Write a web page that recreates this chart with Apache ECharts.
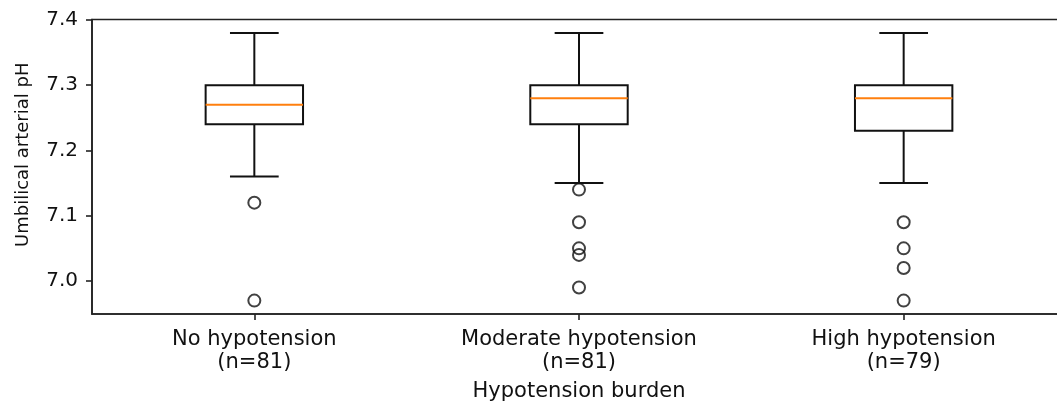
<!DOCTYPE html>
<html>
<head>
<meta charset="utf-8">
<script src="https://cdn.jsdelivr.net/npm/echarts@6/dist/echarts.min.js"></script>
<style>
html,body{margin:0;padding:0;background:#fff;overflow:hidden;}
#chart{width:1080px;height:408px;}
</style>
</head>
<body>
<div id="chart"></div>
<script>
// ---- data ----
var categories = ['No hypotension\n(n=81)', 'Moderate hypotension\n(n=81)', 'High hypotension\n(n=79)'];
// [lower whisker, Q1, median, Q3, upper whisker]
var boxNo = [7.16, 7.24, 7.27, 7.30, 7.38];
var boxModerate = [7.15, 7.24, 7.28, 7.30, 7.38];
var boxHigh = [7.15, 7.23, 7.28, 7.30, 7.38];
var outliersNo = [7.12, 6.97];
var outliersModerate = [7.14, 7.09, 7.05, 7.04, 6.99];
var outliersHigh = [7.09, 7.05, 7.02, 6.97];
var yTicks = [7.0, 7.1, 7.2, 7.3, 7.4];

var boxes = [boxNo, boxModerate, boxHigh];
var outliers = [outliersNo, outliersModerate, outliersHigh];
var boxData = boxes.map(function (b, i) { return [i].concat(b); });
var outlierData = [];
outliers.forEach(function (arr, i) { arr.forEach(function (v) { outlierData.push([i, v]); }); });

var chart = echarts.init(document.getElementById('chart'), null, {renderer: 'canvas'});
var FONT = 'DejaVu Sans';
var LINE = '#111';

chart.setOption({
  animation: false,
  backgroundColor: '#fff',
  grid: {left: 92, width: 974, top: 19.5, height: 294.5, show: true, borderColor: '#222', borderWidth: 1.6, backgroundColor: 'transparent'},
  xAxis: {
    type: 'category',
    data: categories,
    boundaryGap: true,
    name: 'Hypotension burden',
    nameLocation: 'middle',
    nameGap: 67,
    nameTextStyle: {fontFamily: FONT, fontSize: 21, color: '#111'},
    axisLine: {show: true, lineStyle: {color: '#222', width: 1.6}},
    axisTick: {show: true, alignWithLabel: true, length: 6, lineStyle: {color: '#222', width: 1.6}},
    axisLabel: {fontFamily: FONT, fontSize: 21, color: '#111', lineHeight: 23, margin: 14, interval: 0},
    splitLine: {show: false}
  },
  yAxis: {
    type: 'value',
    min: 6.9495,
    max: 7.4005,
    name: 'Umbilical arterial pH',
    nameLocation: 'middle',
    nameGap: 60,
    nameTextStyle: {fontFamily: FONT, fontSize: 18, color: '#111', padding: [0, 0, 0, 24]},
    axisLine: {show: true, lineStyle: {color: '#222', width: 1.6}},
    axisTick: {show: true, length: 6, customValues: yTicks, lineStyle: {color: '#222', width: 1.6}},
    axisLabel: {fontFamily: FONT, fontSize: 20, color: '#111', margin: 14, customValues: yTicks,
      formatter: function (v) { return v.toFixed(1); }},
    splitLine: {show: false}
  },
  series: [
    {
      type: 'custom',
      data: boxData,
      encode: {x: 0, y: [1, 2, 3, 4, 5]},
      renderItem: function (params, api) {
        var c = api.value(0);
        var band = api.size([1, 0])[0];
        var bw = band * 0.3;
        var cw = bw * 0.5;
        var pLo = api.coord([c, api.value(1)]);
        var pQ1 = api.coord([c, api.value(2)]);
        var pMed = api.coord([c, api.value(3)]);
        var pQ3 = api.coord([c, api.value(4)]);
        var pHi = api.coord([c, api.value(5)]);
        var x = pQ1[0];
        var ls = {stroke: LINE, lineWidth: 2, fill: null};
        return {
          type: 'group',
          children: [
            {type: 'line', shape: {x1: x, y1: pQ1[1], x2: x, y2: pLo[1]}, style: ls},
            {type: 'line', shape: {x1: x, y1: pQ3[1], x2: x, y2: pHi[1]}, style: ls},
            {type: 'line', shape: {x1: x - cw / 2, y1: pLo[1], x2: x + cw / 2, y2: pLo[1]}, style: ls},
            {type: 'line', shape: {x1: x - cw / 2, y1: pHi[1], x2: x + cw / 2, y2: pHi[1]}, style: ls},
            {type: 'rect', shape: {x: x - bw / 2, y: pQ3[1], width: bw, height: pQ1[1] - pQ3[1]},
              style: {stroke: LINE, lineWidth: 2, fill: '#fff'}},
            {type: 'line', shape: {x1: x - bw / 2, y1: pMed[1], x2: x + bw / 2, y2: pMed[1]},
              style: {stroke: '#ff7f0e', lineWidth: 2}}
          ]
        };
      }
    },
    {
      type: 'scatter',
      data: outlierData,
      symbol: 'circle',
      symbolSize: 12,
      itemStyle: {color: 'rgba(0,0,0,0)', borderColor: LINE, borderWidth: 2},
      z: 5
    }
  ]
});
</script>
</body>
</html>
